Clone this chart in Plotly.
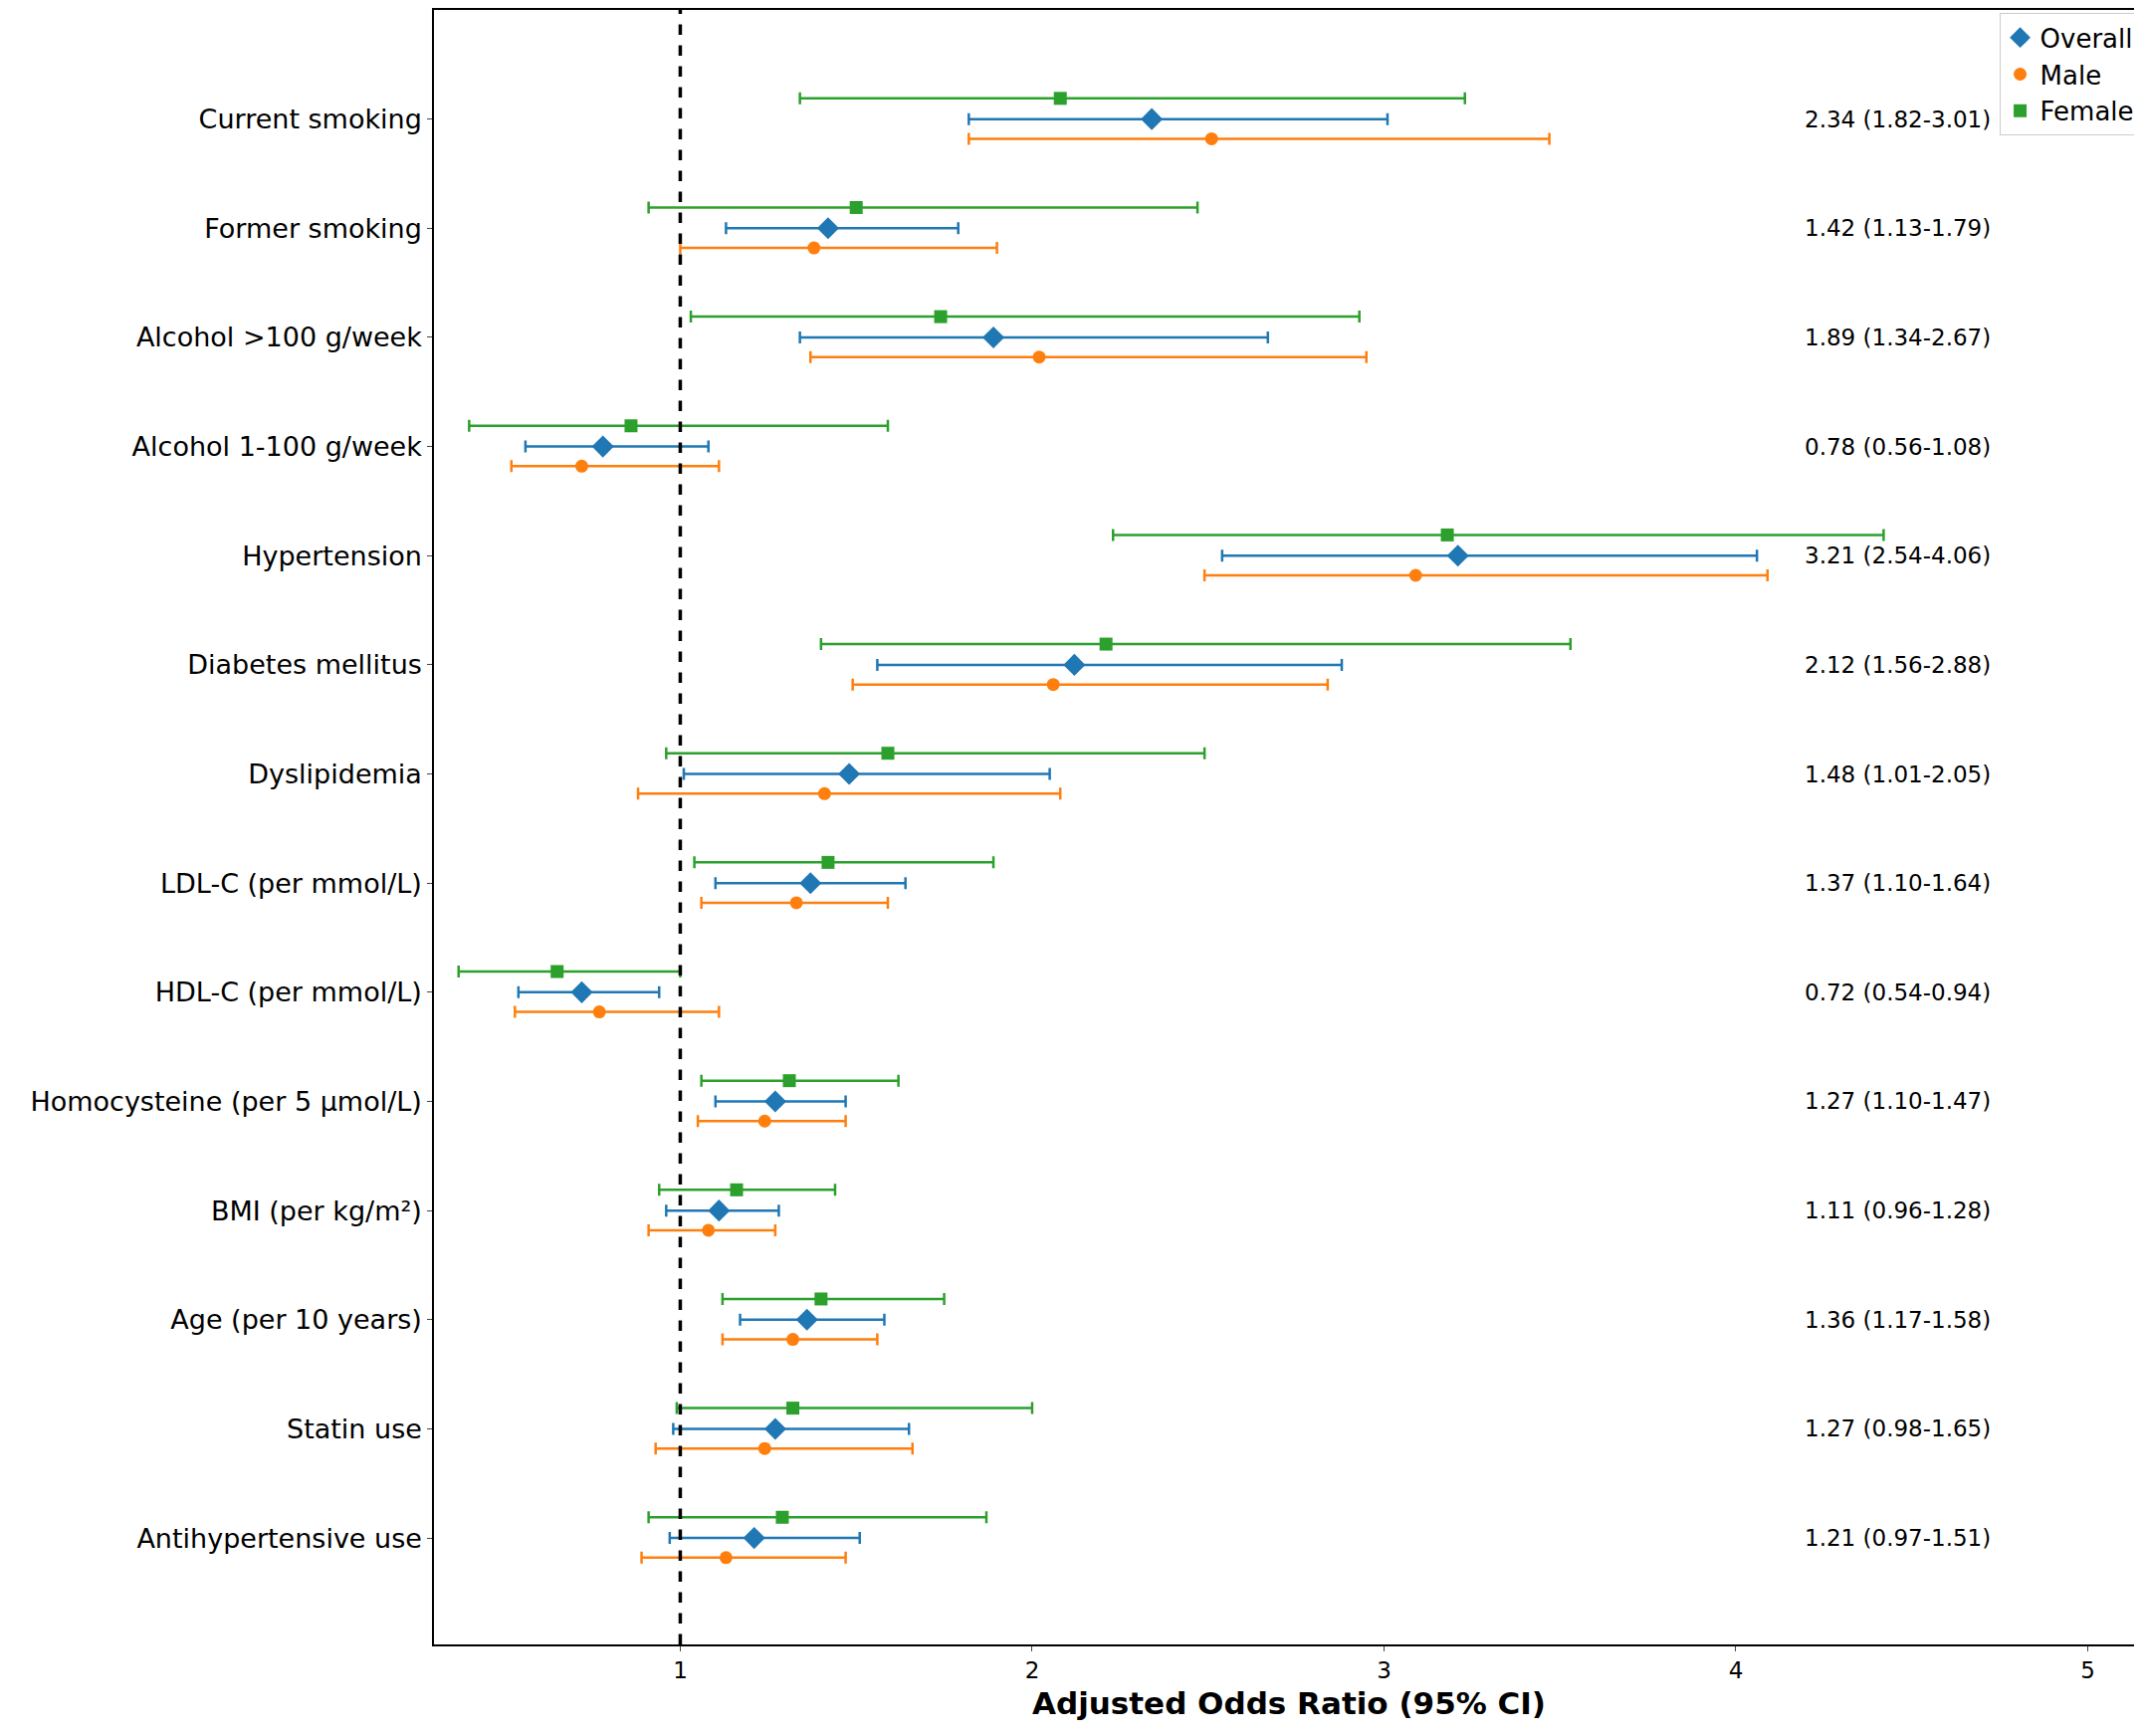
import plotly.graph_objects as go

factors = ["Current smoking", "Former smoking", "Alcohol >100 g/week", "Alcohol 1-100 g/week",
           "Hypertension", "Diabetes mellitus", "Dyslipidemia", "LDL-C (per mmol/L)",
           "HDL-C (per mmol/L)", "Homocysteine (per 5 µmol/L)", "BMI (per kg/m²)",
           "Age (per 10 years)", "Statin use", "Antihypertensive use"]

overall = [2.34, 1.42, 1.89, 0.78, 3.21, 2.12, 1.48, 1.37, 0.72, 1.27, 1.11, 1.36, 1.27, 1.21]
overall_lo = [1.82, 1.13, 1.34, 0.56, 2.54, 1.56, 1.01, 1.10, 0.54, 1.10, 0.96, 1.17, 0.98, 0.97]
overall_hi = [3.01, 1.79, 2.67, 1.08, 4.06, 2.88, 2.05, 1.64, 0.94, 1.47, 1.28, 1.58, 1.65, 1.51]

male = [2.51, 1.38, 2.02, 0.72, 3.09, 2.06, 1.41, 1.33, 0.77, 1.24, 1.08, 1.32, 1.24, 1.13]
male_lo = [1.82, 1.00, 1.37, 0.52, 2.49, 1.49, 0.88, 1.06, 0.53, 1.05, 0.91, 1.12, 0.93, 0.89]
male_hi = [3.47, 1.90, 2.95, 1.11, 4.09, 2.84, 2.08, 1.59, 1.11, 1.47, 1.27, 1.56, 1.66, 1.47]

female = [2.08, 1.50, 1.74, 0.86, 3.18, 2.21, 1.59, 1.42, 0.65, 1.31, 1.16, 1.40, 1.32, 1.29]
female_lo = [1.34, 0.91, 1.03, 0.40, 2.23, 1.40, 0.96, 1.04, 0.37, 1.06, 0.94, 1.12, 0.99, 0.91]
female_hi = [3.23, 2.47, 2.93, 1.59, 4.42, 3.53, 2.49, 1.89, 1.00, 1.62, 1.44, 1.75, 2.00, 1.87]

ypos = list(range(len(factors)))
fig = go.Figure()

def add(name, vals, lo, hi, off, color, symbol, size):
    fig.add_trace(go.Scatter(
        x=vals, y=[y + off for y in ypos], mode="markers", name=name,
        marker=dict(color=color, symbol=symbol, size=size),
        error_x=dict(type="data", symmetric=False,
                     array=[h - v for h, v in zip(hi, vals)],
                     arrayminus=[v - l for v, l in zip(vals, lo)],
                     color=color, thickness=2.5, width=6)))

add("Overall", overall, overall_lo, overall_hi, 0, "#1f77b4", "diamond", 17)
add("Male", male, male_lo, male_hi, 0.18, "#ff7f0e", "circle", 13)
add("Female", female, female_lo, female_hi, -0.19, "#2ca02c", "square", 13)

fig.add_vline(x=1, line=dict(color="black", dash="dash", width=3.5))

for y, v, l, h in zip(ypos, overall, overall_lo, overall_hi):
    fig.add_annotation(x=4.19, y=y, text=f"{v:.2f} ({l:.2f}-{h:.2f})", showarrow=False,
                       xanchor="left", font=dict(size=23, color="black"))

fig.update_layout(
    width=2152, height=1744, plot_bgcolor="white", paper_bgcolor="white",
    font=dict(family="DejaVu Sans", color="black"),
    margin=dict(l=428, r=6, t=0, b=100),
    legend=dict(x=0.998, y=0.998, xanchor="right", yanchor="top", font=dict(size=26),
                bordercolor="#cccccc", borderwidth=1, bgcolor="rgba(255,255,255,0.8)"),
    xaxis=dict(range=[0.30, 5.16], tickvals=[1, 2, 3, 4, 5], showgrid=False, zeroline=False,
               showline=True, linecolor="black", linewidth=1.5, mirror=True, ticks="outside",
               tickfont=dict(size=23),
               title=dict(text="<b>Adjusted Odds Ratio (95% CI)</b>", font=dict(size=31), standoff=10)),
    yaxis=dict(range=[len(factors) - 1 + 0.975, -1.0], tickvals=ypos, ticktext=factors,
               showgrid=False, zeroline=False, showline=True, linecolor="black", linewidth=1.5,
               mirror=True, ticks="outside", tickfont=dict(size=27)),
)

fig.write_html("out.html")
